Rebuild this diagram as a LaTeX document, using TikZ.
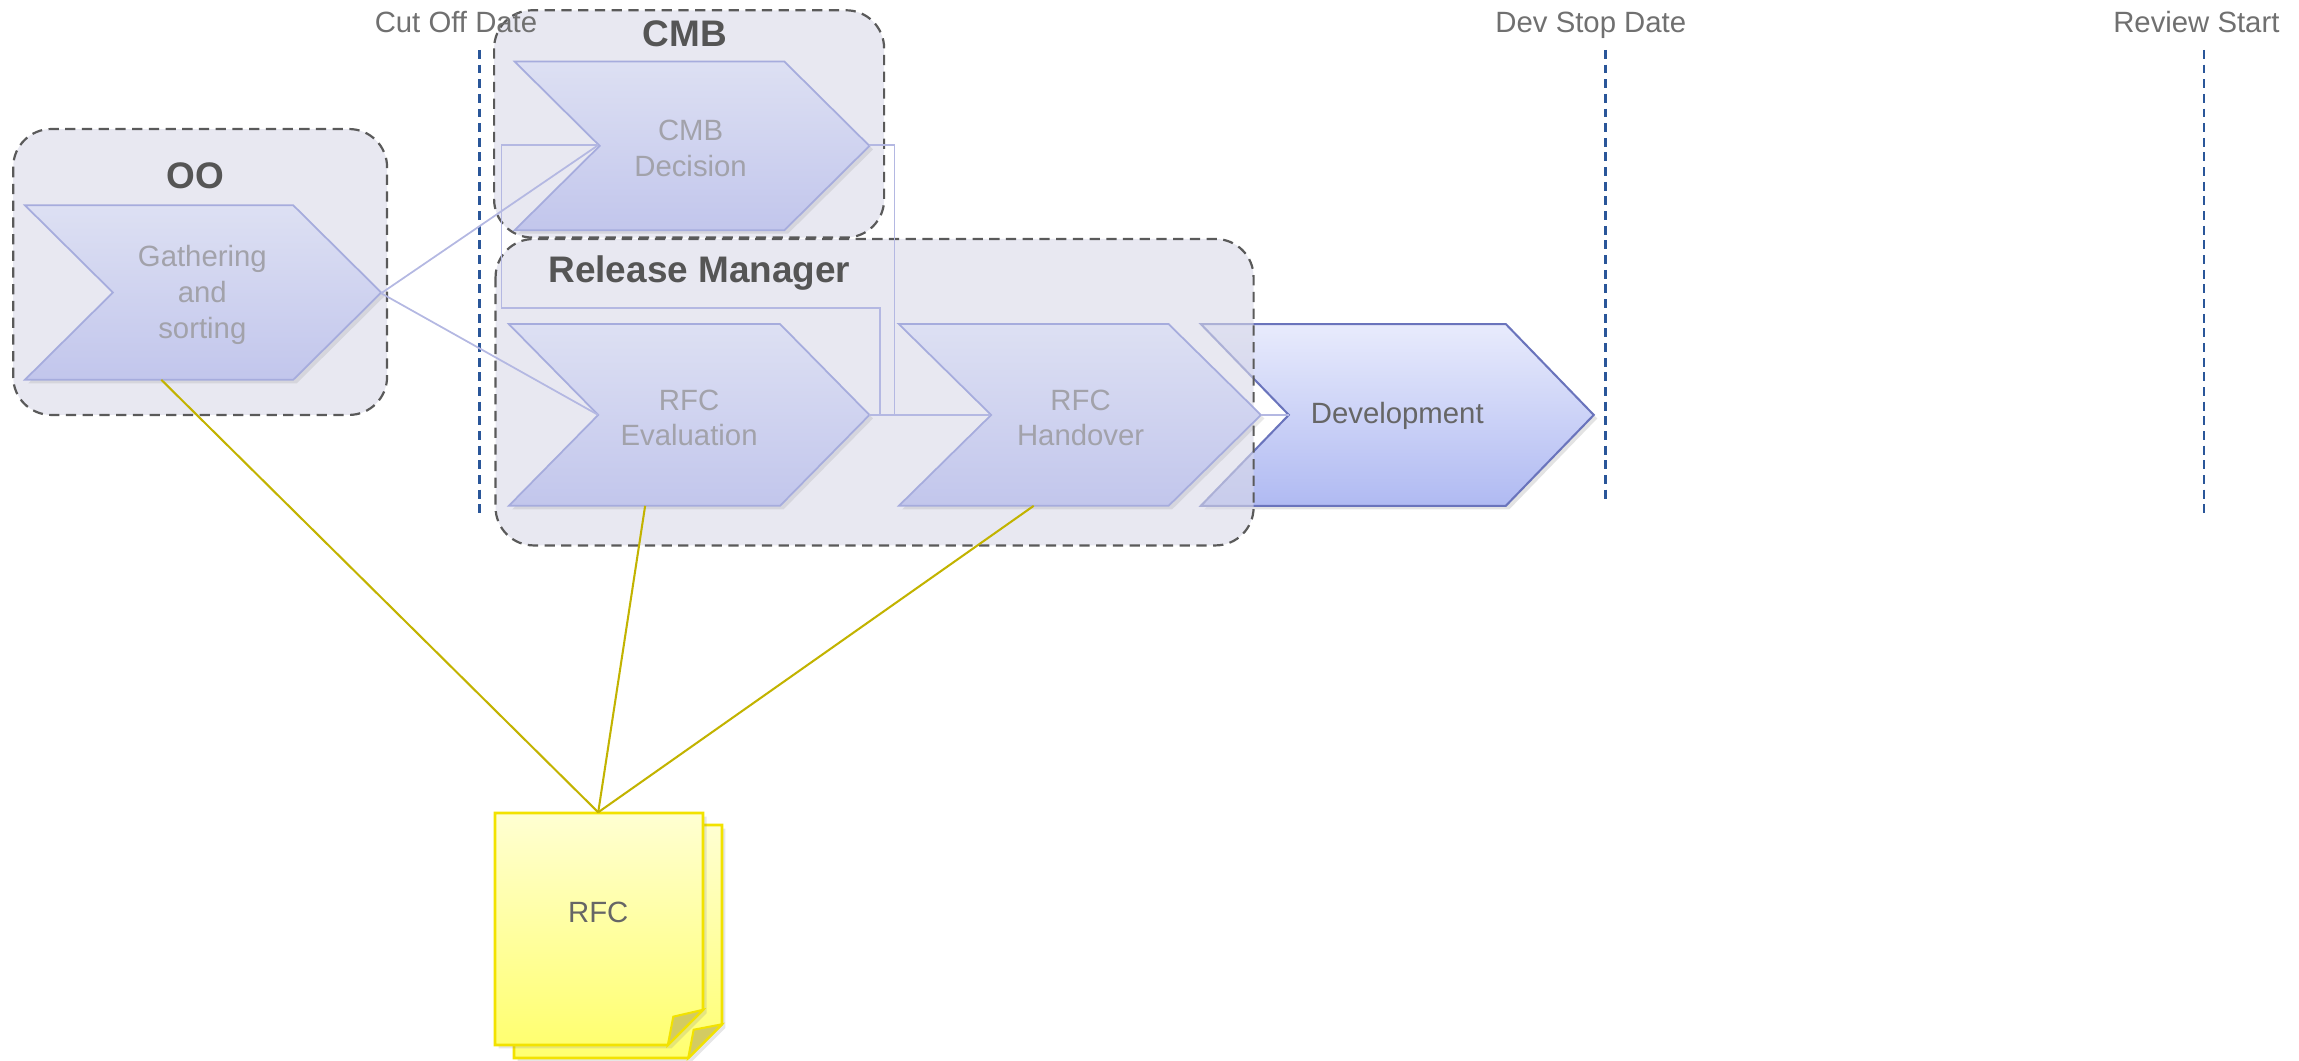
\documentclass[tikz,border=0pt]{standalone}
\usepackage{fontspec}
\setmainfont{Liberation Sans}
\usetikzlibrary{shadows}
\definecolor{grpfill}{HTML}{E8E8F1}
\definecolor{grpfillt}{HTML}{D9D9E8}
\definecolor{grpline}{HTML}{5A5A5A}
\definecolor{chevline}{HTML}{A6ACDD}
\definecolor{chevtop}{HTML}{DDE0F3}
\definecolor{chevbot}{HTML}{C2C6EC}
\definecolor{chevtext}{HTML}{A2A2AA}
\definecolor{devtop}{HTML}{E8EBFC}
\definecolor{devbot}{HTML}{B0BAF2}
\definecolor{devline}{HTML}{6A74BC}
\definecolor{connc}{HTML}{B4B8E2}
\definecolor{ylw}{HTML}{C2B300}
\definecolor{tlc}{HTML}{2A5699}
\definecolor{lblc}{HTML}{707070}
\definecolor{titlec}{HTML}{555555}
\definecolor{pageline}{HTML}{F2E200}
\definecolor{pagetop}{HTML}{FFFFD2}
\definecolor{pagebot}{HTML}{FFFF70}
\definecolor{foldc}{HTML}{D3CB62}
\newcommand\mychev[6]{%
  \path[#6] (#1,#2) -- (#3-#5,#2) -- (#3,{(#2+#4)/2}) -- (#3-#5,#4) -- (#1,#4) -- (#1+#5,{(#2+#4)/2}) -- cycle;}
\newcommand\mypage[5]{%
  \path[pagebox] (#1,#2) -- (#3,#2) -- (#3,#4-#5) -- (#3-#5,#4) -- (#1,#4) -- cycle;
  \path[foldbox] (#3-#5,#4) -- (#3-#5+3.7,#4-19.3) -- (#3,#4-#5) -- cycle;}
\begin{document}
\begin{tikzpicture}[x=0.5pt,y=-0.5pt,font=\fontsize{10}{12.2}\selectfont,
  grp/.style={draw=grpline,line width=0.75pt,dash pattern=on 3.5pt off 2.2pt,fill=grpfill,rounded corners=13pt},
  grpt/.style={grp,fill=grpfillt,fill opacity=0.6},
  chevbox/.style={draw=chevline,line width=0.6pt,top color=chevtop,bottom color=chevbot,
    drop shadow={shadow xshift=1.2pt,shadow yshift=-1.2pt,opacity=0.18}},
  devbox/.style={draw=devline,line width=0.7pt,top color=devtop,bottom color=devbot,
    drop shadow={shadow xshift=1.2pt,shadow yshift=-1.2pt,opacity=0.22}},
  chtext/.style={text=chevtext,align=center,inner sep=0pt},
  devtext/.style={text=black!60,inner sep=0pt},
  ttl/.style={text=titlec,font=\fontsize{12.6}{14}\selectfont\bfseries,inner sep=0pt},
  lbl/.style={text=lblc,inner sep=0pt,anchor=base},
  tl/.style={draw=tlc,line width=0.75pt,dash pattern=on 3pt off 2pt},
  conn/.style={draw=connc,line width=0.6pt},
  yl/.style={draw=ylw,line width=0.7pt},
  pagebox/.style={draw=pageline,line width=0.9pt,top color=pagetop,bottom color=pagebot,
    drop shadow={shadow xshift=1.2pt,shadow yshift=-1.2pt,opacity=0.2}},
  foldbox/.style={draw=pageline,line width=0.7pt,fill=foldc}]
\useasboundingbox (0,0) rectangle (1568,723);

% timeline markers
\coordinate (cut-a) at (327,34);   \coordinate (cut-b) at (327,350);
\coordinate (dev-a) at (1095,34);  \coordinate (dev-b) at (1095,340);
\coordinate (rev-a) at (1503,34);  \coordinate (rev-b) at (1503,350);
\draw[tl] (cut-a) -- (cut-b);
\draw[tl] (dev-a) -- (dev-b);
\draw[tl] (rev-a) -- (rev-b);

% group boxes
\draw[grp] (9,88) rectangle (264,283);
\draw[grp] (337,7) rectangle (603,162);
\mychev{819}{221}{1087}{345}{60}{devbox}
\draw[grpt] (338,163) rectangle (855,372);

\node[lbl] (cut) at (311,22) {Cut Off Date};
\node[lbl] (devstop) at (1085,22) {Dev Stop Date};
\node[lbl] (review) at (1498,22) {Review Start};

\node[ttl] (oo-t) at (133,120) {OO};
\node[ttl] (cmb-t) at (467,23) {CMB};
\node[ttl] (rm-t) at (477,186) {Release Manager};

% chevrons
\mychev{17}{140}{260}{259}{60}{chevbox}
\mychev{351}{42}{593}{157}{58}{chevbox}
\mychev{347}{221}{593}{345}{61}{chevbox}
\mychev{613}{221}{860}{345}{63}{chevbox}

\node[chtext] (gath) at (138,201) {Gathering\\and\\sorting};
\node[chtext] (cmbd) at (471,101) {CMB\\Decision};
\node[chtext] (eval) at (470,285) {RFC\\Evaluation};
\node[chtext] (hand) at (737,285) {RFC\\Handover};
\node[devtext] (dev) at (953,284) {Development};

\coordinate (gath-tip) at (260,200);
\coordinate (gath-bot) at (110,259);
\coordinate (cmbd-notch) at (408,99);
\coordinate (cmbd-tip) at (593,99);
\coordinate (cmbd-out) at (610,99);
\coordinate (eval-notch) at (408,283);
\coordinate (eval-tip) at (593,283);
\coordinate (eval-out) at (600,283);
\coordinate (loop-c) at (342,210);
\coordinate (eval-bot) at (440,345);
\coordinate (hand-notch) at (675,283);
\coordinate (hand-tip) at (860,283);
\coordinate (hand-bot) at (705,345);
\coordinate (dev-notch) at (879,283);

% connectors
\draw[conn] (gath-tip) -- (cmbd-notch);
\draw[conn] (gath-tip) -- (eval-notch);
\draw[conn] (eval-tip) -- (hand-notch);
\draw[conn] (cmbd-tip) -- (cmbd-out) |- (hand-notch);
\draw[conn] (eval-tip) -- (eval-out) |- (loop-c) |- (cmbd-notch);
\draw[conn] (hand-tip) -- (dev-notch);

% RFC document
\mypage{350.6}{562.7}{492.4}{721.6}{23}
\mypage{337.6}{554.5}{479.5}{712.7}{24}
\node[text=black!60,inner sep=0pt] (rfc) at (408,622) {RFC};
\coordinate (rfc-top) at (408,554);

\draw[yl] (rfc-top) -- (gath-bot);
\draw[yl] (rfc-top) -- (eval-bot);
\draw[yl] (rfc-top) -- (hand-bot);
\end{tikzpicture}
\end{document}
